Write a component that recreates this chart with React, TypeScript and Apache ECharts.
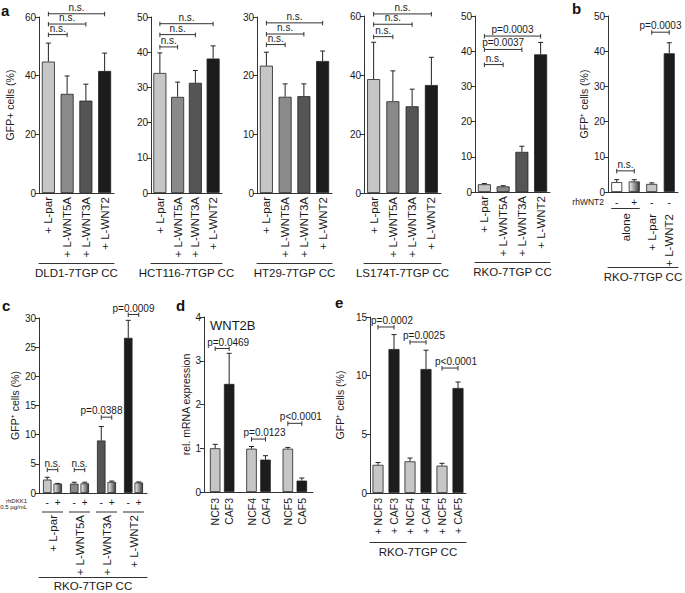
import React, { useEffect, useRef } from "react";
import * as echarts from "echarts";

const FONT = "'Liberation Sans', Arial, Helvetica, sans-serif";
const AX = "#333";
const TXT = "#1a1a1a";

// ---------- Panel a ----------
const aCategories = ["+ L-par", "+ L-WNT5A", "+ L-WNT3A", "+ L-WNT2"];
const dld1Mean = [44.8, 33.8, 31.5, 41.6];
const dld1Sd = [6.3, 6.1, 5.6, 6.1];
const hct116Mean = [34.1, 27.3, 31.3, 38.2];
const hct116Sd = [5.7, 4.2, 3.5, 3.6];
const ht29Mean = [21.7, 16.4, 16.5, 22.5];
const ht29Sd = [2.3, 2.2, 2.1, 1.7];
const ls174tMean = [38.6, 31.1, 29.4, 36.6];
const ls174tSd = [12.5, 10.3, 5.8, 9.4];
const rkoMean = [2.2, 1.6, 11.4, 39.1];
const rkoSd = [0.2, 0.2, 1.6, 3.4];

const dld1Brackets = [
  { from: 0, to: 1, y: 54.0, text: "n.s." },
  { from: 0, to: 2, y: 57.6, text: "n.s." },
  { from: 0, to: 3, y: 61.1, text: "n.s." },
];
const hct116Brackets = [
  { from: 0, to: 1, y: 41.5, text: "n.s." },
  { from: 0, to: 2, y: 45.0, text: "n.s." },
  { from: 0, to: 3, y: 48.1, text: "n.s." },
];
const ht29Brackets = [
  { from: 0, to: 1, y: 25.3, text: "n.s." },
  { from: 0, to: 2, y: 27.1, text: "n.s." },
  { from: 0, to: 3, y: 29.0, text: "n.s." },
];
const ls174tBrackets = [
  { from: 0, to: 1, y: 53.0, text: "n.s." },
  { from: 0, to: 2, y: 57.2, text: "n.s." },
  { from: 0, to: 3, y: 60.7, text: "n.s." },
];
const rkoBrackets = [
  { from: 0, to: 1, y: 36.2, text: "n.s." },
  { from: 0, to: 2, y: 40.5, text: "p=0.0037" },
  { from: 0, to: 3, y: 44.3, text: "p=0.0003" },
];

// ---------- Panel b ----------
const bRhWnt2 = ["-", "+", "-", "-"];
const bLabels = ["", "", "+ L-par", "+ L-WNT2"];
const bAloneLabel = "alone";
const bMean = [2.8, 3.0, 2.3, 39.4];
const bSd = [0.7, 0.5, 0.3, 3.0];
const bBrackets = [
  { from: 0, to: 1, y: 6.0, text: "n.s." },
  { from: 2, to: 3, y: 45.4, text: "p=0.0003" },
];

// ---------- Panel c ----------
const cGroups = ["+ L-par", "+ L-WNT5A", "+ L-WNT3A", "+ L-WNT2"];
const cDkk = ["-", "+"];
const cMinusMean = [2.3, 1.6, 9.0, 26.6];
const cMinusSd = [0.4, 0.25, 2.4, 3.0];
const cPlusMean = [1.6, 1.65, 1.9, 1.8];
const cPlusSd = [0.05, 0.2, 0.15, 0.1];
const cBrackets = [
  { from: 0, to: 0, y: 4.0, text: "n.s." },
  { from: 1, to: 1, y: 4.0, text: "n.s." },
  { from: 2, to: 2, y: 13.0, text: "p=0.0388" },
  { from: 3, to: 3, y: 30.6, text: "p=0.0009" },
];
const cBracketTextShift = [0, 0, -5, 0];

// ---------- Panel d ----------
const dGroups = ["NCF3\nCAF3", "NCF4\nCAF4", "NCF5\nCAF5"];
const dNcfMean = [1.0, 0.99, 0.99];
const dNcfSd = [0.09, 0.05, 0.03];
const dCafMean = [2.47, 0.74, 0.26];
const dCafSd = [0.7, 0.09, 0.06];
const dBrackets = [
  { from: 0, to: 0, y: 3.28, text: "p=0.0469" },
  { from: 1, to: 1, y: 1.21, text: "p=0.0123" },
  { from: 2, to: 2, y: 1.57, text: "p<0.0001" },
];

// ---------- Panel e ----------
const eCategories = ["+ NCF3", "+ CAF3", "+ NCF4", "+ CAF4", "+ NCF5", "+ CAF5"];
const eMean = [2.4, 12.27, 2.7, 10.57, 2.33, 8.95];
const eSd = [0.2, 1.23, 0.28, 1.6, 0.2, 0.51];
const eBrackets = [
  { from: 0, to: 1, y: 14.15, text: "p=0.0002" },
  { from: 2, to: 3, y: 12.87, text: "p=0.0025" },
  { from: 4, to: 5, y: 10.65, text: "p<0.0001" },
];

// ---------- styles ----------
const C_LPAR = "#c6c6c6";
const C_W5A = "#8a8a8a";
const C_W3A = "#555555";
const C_W2 = "#1c1c1c";
const aColors = [C_LPAR, C_W5A, C_W3A, C_W2];
const GRAD = {
  type: "linear", x: 0, y: 0, x2: 1, y2: 0,
  colorStops: [
    { offset: 0, color: "#f2f2f2" },
    { offset: 0.5, color: "#9a9a9a" },
    { offset: 1, color: "#3a3a3a" },
  ],
};
const bColors: any[] = ["#ffffff", GRAD, C_LPAR, C_W2];

type Bracket = { from: number; to: number; y: number; text: string };

function yAxisDef(grid: number, max: number, interval: number, name?: string, nameGap?: number) {
  return {
    type: "value", gridIndex: grid, min: 0, max, interval,
    axisLine: { show: true, lineStyle: { color: AX, width: 1 } },
    axisTick: { show: true, length: 4, lineStyle: { color: AX } },
    splitLine: { show: false },
    axisLabel: { fontSize: 10, margin: 3, color: TXT, fontFamily: FONT },
    name: name || "", nameLocation: "middle", nameGap: nameGap || 20,
    nameTextStyle: { fontSize: 10.5, color: TXT, fontFamily: FONT },
  };
}

function catAxis(grid: number, data: string[], o: any = {}) {
  const axis: any = {
    type: "category", gridIndex: grid, data, position: "bottom", offset: o.offset || 0,
    axisLine: { show: o.line !== false, lineStyle: { color: AX, width: 1 } },
    axisTick: { show: false },
    splitLine: { show: false },
    axisLabel: o.label === false ? { show: false } : {
      show: true, interval: 0, rotate: o.rotate || 0, margin: o.margin ?? 4,
      fontSize: o.fontSize || 11.5, color: TXT, fontFamily: FONT,
    },
  };
  if (o.lineHeight) axis.axisLabel.lineHeight = o.lineHeight;
  if (o.formatter) axis.axisLabel.formatter = o.formatter;
  if (o.rich) axis.axisLabel.rich = o.rich;
  if (o.name) {
    axis.name = o.name;
    axis.nameLocation = "middle";
    axis.nameGap = o.nameGap ?? 4;
    axis.nameTextStyle = { fontSize: 11.5, color: TXT, fontFamily: FONT, fontWeight: "normal" };
  }
  return axis;
}

function barSeries(xi: number, yi: number, mean: number[], colors: any[], width: number, extra: any = {}) {
  return {
    type: "bar", xAxisIndex: xi, yAxisIndex: yi, barWidth: width, z: 2,
    data: mean.map((v, i) => ({ value: v, itemStyle: { color: colors[i % colors.length] } })),
    itemStyle: { borderColor: "#222", borderWidth: 0.8 },
    ...extra,
  };
}

function errorSeries(xi: number, yi: number, mean: number[], sd: number[], offset = 0) {
  return {
    type: "custom", xAxisIndex: xi, yAxisIndex: yi, z: 4, silent: true,
    data: mean.map((m, i) => [i, m]),
    encode: { x: 0, y: 1 },
    renderItem: (params: any, api: any) => {
      const i = params.dataIndex;
      const p0 = api.coord([i, mean[i]]);
      const p1 = api.coord([i, mean[i] + sd[i]]);
      const x = p0[0] + offset;
      const st = { stroke: "#222", lineWidth: 1 };
      return {
        type: "group",
        children: [
          { type: "line", shape: { x1: x, y1: p0[1], x2: x, y2: p1[1] }, style: st },
          { type: "line", shape: { x1: x - 2.5, y1: p1[1], x2: x + 2.5, y2: p1[1] }, style: st },
        ],
      };
    },
  };
}

function bracketSeries(xi: number, yi: number, list: Bracket[], half = 0, dx = 0, shifts?: number[]) {
  return {
    type: "custom", xAxisIndex: xi, yAxisIndex: yi, z: 5, silent: true,
    data: list.map((b) => [b.from, b.y]),
    encode: { x: 0, y: 1 },
    renderItem: (params: any, api: any) => {
      const b = list[params.dataIndex];
      const p1 = api.coord([b.from, b.y]);
      const p2 = api.coord([b.to, b.y]);
      const x1 = p1[0] - half;
      const x2 = p2[0] + half;
      const y = p1[1];
      const st = { stroke: "#333", lineWidth: 1 };
      const shift = shifts ? shifts[params.dataIndex] : 0;
      return {
        type: "group",
        children: [
          { type: "line", shape: { x1, y1: y, x2, y2: y }, style: st },
          { type: "line", shape: { x1, y1: y - 2, x2: x1, y2: y + 2.5 }, style: st },
          { type: "line", shape: { x1: x2, y1: y - 2, x2, y2: y + 2.5 }, style: st },
          {
            type: "text", x: (x1 + x2) / 2 + dx + shift, y: y - 1.5,
            style: { text: b.text, font: `10px ${FONT}`, fill: TXT, align: "center", verticalAlign: "bottom" },
          },
        ],
      };
    },
  };
}

function groupLineSeries(xi: number, yi: number, items: { from: number; to: number; text: string }[], ext: number, lineDy: number, textDy: number) {
  return {
    type: "custom", xAxisIndex: xi, yAxisIndex: yi, z: 5, silent: true,
    data: items.map((g) => [g.from, 0]),
    encode: { x: 0, y: 1 },
    renderItem: (params: any, api: any) => {
      const g = items[params.dataIndex];
      const a = api.coord([g.from, 0]);
      const c = api.coord([g.to, 0]);
      const y0 = a[1];
      const children: any[] = [
        { type: "line", shape: { x1: a[0] - ext, y1: y0 + lineDy, x2: c[0] + ext, y2: y0 + lineDy }, style: { stroke: AX, lineWidth: 1 } },
      ];
      if (g.text) {
        children.push({
          type: "text", x: (a[0] + c[0]) / 2, y: y0 + textDy, rotation: Math.PI / 2,
          style: { text: g.text, font: `11.5px ${FONT}`, fill: TXT, align: "right", verticalAlign: "middle" },
        });
      }
      return { type: "group", children };
    },
  };
}

function buildOption() {
  const grid = [
    { left: 39, top: 17, width: 75, height: 176 },   // a1
    { left: 151, top: 17, width: 71, height: 176 },  // a2
    { left: 257, top: 17, width: 75, height: 176 },  // a3
    { left: 364, top: 16, width: 77, height: 177 },  // a4
    { left: 475, top: 16, width: 75, height: 176 },  // a5
    { left: 608, top: 16, width: 70, height: 176 },  // b
    { left: 39, top: 318, width: 108, height: 175 }, // c
    { left: 204, top: 317, width: 109, height: 175 },// d
    { left: 370, top: 317, width: 96, height: 176 }, // e
  ];
  const yAxis = [
    yAxisDef(0, 60, 20, "GFP+ cells (%)", 24),
    yAxisDef(1, 50, 10),
    yAxisDef(2, 30, 10),
    yAxisDef(3, 60, 20),
    yAxisDef(4, 50, 10),
    yAxisDef(5, 50, 10, "GFP\u207A cells (%)", 15),
    yAxisDef(6, 30, 5, "GFP\u207A cells (%)", 19),
    yAxisDef(7, 4, 1, "rel. mRNA expression", 12),
    yAxisDef(8, 15, 5, "GFP\u207A cells (%)", 25),
  ];
  const xAxis: any[] = [];
  const series: any[] = [];

  const aPanels = [
    { mean: dld1Mean, sd: dld1Sd, br: dld1Brackets, name: "DLD1-7TGP CC" },
    { mean: hct116Mean, sd: hct116Sd, br: hct116Brackets, name: "HCT116-7TGP CC" },
    { mean: ht29Mean, sd: ht29Sd, br: ht29Brackets, name: "HT29-7TGP CC" },
    { mean: ls174tMean, sd: ls174tSd, br: ls174tBrackets, name: "LS174T-7TGP CC" },
    { mean: rkoMean, sd: rkoSd, br: rkoBrackets, name: "RKO-7TGP CC" },
  ];
  aPanels.forEach((p, g) => {
    const xi = xAxis.length;
    xAxis.push(catAxis(g, aCategories, { rotate: 90, margin: 4 }));
    xAxis.push(catAxis(g, aCategories, { offset: 70, label: false, name: p.name, nameGap: 4 }));
    series.push(barSeries(xi, g, p.mean, aColors, 13));
    series.push(errorSeries(xi, g, p.mean, p.sd));
    series.push(bracketSeries(xi, g, p.br));
  });

  // panel b
  {
    const g = 5;
    const xi = xAxis.length;
    xAxis.push(catAxis(g, bRhWnt2, { margin: 5, fontSize: 10 }));
    xAxis.push(catAxis(g, bLabels, { offset: 19, line: false, rotate: 90, margin: 3 }));
    xAxis.push(catAxis(g, bLabels, { offset: 75, label: false, name: "RKO-7TGP CC", nameGap: 4 }));
    series.push(barSeries(xi, g, bMean, bColors, 11));
    series.push(errorSeries(xi, g, bMean, bSd));
    series.push(bracketSeries(xi, g, bBrackets));
    series.push(groupLineSeries(xi, g, [{ from: 0, to: 1, text: bAloneLabel }], 5.5, 16.5, 21));
  }

  // panel c
  {
    const g = 6;
    const xi = xAxis.length;
    xAxis.push(catAxis(g, cGroups, {
      margin: 4, fontSize: 10,
      formatter: () => `{m|${cDkk[0]}}{p|${cDkk[1]}}`,
      rich: {
        m: { width: 10.5, align: "center", fontSize: 10, fontFamily: FONT, color: TXT },
        p: { width: 10.5, align: "center", fontSize: 10, fontFamily: FONT, color: TXT },
      },
    }));
    xAxis.push(catAxis(g, cGroups, { offset: 19, line: false, rotate: 90, margin: 3 }));
    xAxis.push(catAxis(g, cGroups, { offset: 84, label: false, name: "RKO-7TGP CC", nameGap: 3 }));
    series.push(barSeries(xi, g, cMinusMean, aColors, 8.5, { barGap: "23.5%" }));
    series.push(barSeries(xi, g, cPlusMean, [GRAD], 8.5, { barGap: "23.5%" }));
    series.push(errorSeries(xi, g, cMinusMean, cMinusSd, -5.25));
    series.push(errorSeries(xi, g, cPlusMean, cPlusSd, 5.25));
    series.push(bracketSeries(xi, g, cBrackets, 5.25, 0, cBracketTextShift));
    series.push(groupLineSeries(xi, g, cGroups.map((_, i) => ({ from: i, to: i, text: "" })), 10.5, 19, 0));
  }

  // panel d
  {
    const g = 7;
    const xi = xAxis.length;
    xAxis.push(catAxis(g, dGroups, { rotate: 90, margin: 6, lineHeight: 14, fontSize: 10.5 }));
    series.push(barSeries(xi, g, dNcfMean, [C_LPAR], 10.5, { barGap: "33.3%" }));
    series.push(barSeries(xi, g, dCafMean, [C_W2], 10.5, { barGap: "33.3%" }));
    series.push(errorSeries(xi, g, dNcfMean, dNcfSd, -7));
    series.push(errorSeries(xi, g, dCafMean, dCafSd, 7));
    series.push(bracketSeries(xi, g, dBrackets, 7, 6));
  }

  // panel e
  {
    const g = 8;
    const xi = xAxis.length;
    xAxis.push(catAxis(g, eCategories, { rotate: 90, margin: 5, fontSize: 10.5 }));
    xAxis.push(catAxis(g, eCategories, { offset: 49, label: false, name: "RKO-7TGP CC", nameGap: 4 }));
    series.push(barSeries(xi, g, eMean, [C_LPAR, C_W2], 11));
    series.push(errorSeries(xi, g, eMean, eSd));
    series.push(bracketSeries(xi, g, eBrackets, 0, 6));
  }

  const letter = (t: string, x: number, y: number) => ({
    type: "text", x, y,
    style: { text: t, font: `bold 15px ${FONT}`, fill: "#111", align: "left", verticalAlign: "top" },
  });
  const graphic = [
    letter("a", 1, 3),
    letter("b", 572, 1),
    letter("c", 2, 298),
    letter("d", 176, 298),
    letter("e", 335, 295),
    { type: "text", x: 210, y: 325, style: { text: "WNT2B", font: `13px ${FONT}`, fill: TXT, align: "left", verticalAlign: "middle" } },
    { type: "text", x: 604, y: 202, style: { text: "rhWNT2", font: `8.5px ${FONT}`, fill: TXT, align: "right", verticalAlign: "middle" } },
    { type: "text", x: 27, y: 501, style: { text: "rhDKK1", font: `6px ${FONT}`, fill: TXT, align: "right", verticalAlign: "middle" } },
    { type: "text", x: 27, y: 507, style: { text: "0.5 \u00B5g/mL", font: `6px ${FONT}`, fill: TXT, align: "right", verticalAlign: "middle" } },
  ];

  return {
    animation: false,
    backgroundColor: "#ffffff",
    textStyle: { fontFamily: FONT },
    grid,
    xAxis,
    yAxis,
    series,
    graphic,
  };
}

export default function App() {
  const ref = useRef<HTMLDivElement>(null);
  useEffect(() => {
    if (!ref.current) return;
    const chart = echarts.init(ref.current, undefined, { renderer: "svg" });
    chart.setOption(buildOption() as any);
    return () => chart.dispose();
  }, []);
  return (
    <div
      ref={ref}
      style={{ position: "absolute", left: 0, top: 0, width: 685, height: 593, background: "#fff" }}
    />
  );
}
